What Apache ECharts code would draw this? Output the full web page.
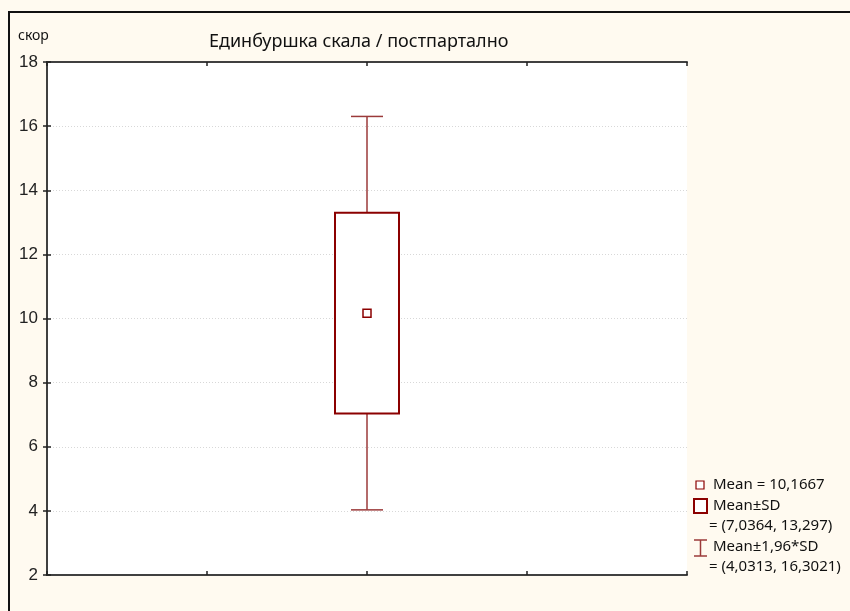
<!DOCTYPE html>
<html>
<head>
<meta charset="utf-8">
<script src="https://cdn.jsdelivr.net/npm/echarts@6/dist/echarts.min.js"></script>
<style>
  html, body { margin: 0; padding: 0; background: #fffaf0; }
  #chart { width: 850px; height: 611px; }
</style>
</head>
<body>
<div id="chart"></div>
<script>
// values
var categories = ["Единбуршка скала / постпартално"];
var means = [10.1667];
var sdLow = [7.0364];
var sdHigh = [13.297];
var ciLow = [4.0313];
var ciHigh = [16.3021];
var yTicks = [2, 4, 6, 8, 10, 12, 14, 16, 18];

var boxColor = "#8b0000";
var font = "'Noto Sans', sans-serif";

function fmt(v) {
  return String(v).replace(".", ",");
}

var chart = echarts.init(document.getElementById("chart"));

var seriesData = [];
for (var i = 0; i < categories.length; i++) {
  seriesData.push([2, means[i], sdLow[i], sdHigh[i], ciLow[i], ciHigh[i]]);
}

function renderBox(params, api) {
  var x = api.value(0);
  var mid = api.coord([x, api.value(1)]);
  var sdLo = api.coord([x, api.value(2)]);
  var sdHi = api.coord([x, api.value(3)]);
  var lo = api.coord([x, api.value(4)]);
  var hi = api.coord([x, api.value(5)]);
  var boxW = api.size([0.4, 0])[0];
  var capW = api.size([0.2, 0])[0];
  var cx = mid[0];
  var thin = { stroke: "#9b3a3a", lineWidth: 1.5 };
  return {
    type: "group",
    children: [
      { type: "line", shape: { x1: cx, y1: hi[1], x2: cx, y2: sdHi[1] }, style: thin },
      { type: "line", shape: { x1: cx, y1: sdLo[1], x2: cx, y2: lo[1] }, style: thin },
      { type: "line", shape: { x1: cx - capW / 2, y1: hi[1], x2: cx + capW / 2, y2: hi[1] }, style: thin },
      { type: "line", shape: { x1: cx - capW / 2, y1: lo[1], x2: cx + capW / 2, y2: lo[1] }, style: thin },
      {
        type: "rect",
        shape: { x: cx - boxW / 2, y: sdHi[1], width: boxW, height: sdLo[1] - sdHi[1] },
        style: { fill: "#fff", stroke: boxColor, lineWidth: 2 }
      },
      {
        type: "rect",
        shape: { x: cx - 4, y: mid[1] - 4, width: 8, height: 8 },
        style: { fill: "#fff", stroke: boxColor, lineWidth: 1.5 }
      }
    ]
  };
}

var axisLine = { show: true, lineStyle: { color: "#404040", width: 2 } };
var axisTick = { show: true, inside: true, length: 4, lineStyle: { color: "#222", width: 1.5 } };

var legendText = { fill: "#111", fontSize: 15, fontFamily: font };

var option = {
  backgroundColor: "#fffaf0",
  animation: false,
  title: {
    text: categories[0],
    left: 204,
    top: 28,
    textStyle: { fontSize: 18, fontWeight: "normal", color: "#111", fontFamily: font }
  },
  grid: { left: 47, right: 163, top: 62, bottom: 36, show: true, backgroundColor: "#fff", borderWidth: 0 },
  xAxis: [
    {
      type: "value", min: 0, max: 4, interval: 1, position: "bottom",
      axisLine: axisLine, axisTick: axisTick, axisLabel: { show: false }, splitLine: { show: false }
    },
    {
      type: "value", min: 0, max: 4, interval: 1, position: "top",
      axisLine: axisLine, axisTick: axisTick, axisLabel: { show: false }, splitLine: { show: false }
    }
  ],
  yAxis: [
    {
      type: "value", min: yTicks[0], max: yTicks[yTicks.length - 1], interval: 2, position: "left",
      name: "скор", nameLocation: "end", nameGap: 19,
      nameTextStyle: { align: "left", padding: [0, 0, 0, -29], fontSize: 14, color: "#111", fontFamily: font },
      axisLine: axisLine, axisTick: axisTick,
      axisLabel: { margin: 9, fontSize: 17, color: "#222", fontFamily: "'Liberation Sans', Arial, sans-serif" },
      splitLine: { show: true, lineStyle: { color: "#d8d8d8", type: [1, 2], width: 1 } }
    },
    {
      type: "value", min: yTicks[0], max: yTicks[yTicks.length - 1], interval: 2, position: "right",
      axisLine: axisLine, axisTick: axisTick, axisLabel: { show: false }, splitLine: { show: false }
    }
  ],
  series: [
    {
      type: "custom",
      xAxisIndex: 0,
      yAxisIndex: 0,
      renderItem: renderBox,
      data: seriesData,
      z: 5
    }
  ],
  graphic: [
    {
      type: "rect", left: 8, top: 11, shape: { width: 900, height: 700 },
      style: { fill: "transparent", stroke: "#111", lineWidth: 2 }, silent: true, z: -1
    },
    { type: "rect", shape: { x: 696, y: 481, width: 8, height: 8 }, style: { fill: "#fff", stroke: boxColor, lineWidth: 1.2 } },
    { type: "text", x: 713, y: 485, style: Object.assign({ text: "Mean = " + fmt(means[0]), verticalAlign: "middle" }, legendText) },
    { type: "rect", shape: { x: 694, y: 499, width: 13, height: 14 }, style: { fill: "#fff", stroke: boxColor, lineWidth: 2 } },
    { type: "text", x: 713, y: 506, style: Object.assign({ text: "Mean±SD", verticalAlign: "middle" }, legendText) },
    { type: "text", x: 709, y: 526, style: Object.assign({ text: "= (" + fmt(sdLow[0]) + ", " + fmt(sdHigh[0]) + ")", verticalAlign: "middle" }, legendText) },
    { type: "line", shape: { x1: 700.5, y1: 540, x2: 700.5, y2: 556 }, style: { stroke: "#9b3a3a", lineWidth: 1.5 } },
    { type: "line", shape: { x1: 694, y1: 540, x2: 707, y2: 540 }, style: { stroke: "#9b3a3a", lineWidth: 1.5 } },
    { type: "line", shape: { x1: 694, y1: 556, x2: 707, y2: 556 }, style: { stroke: "#9b3a3a", lineWidth: 1.5 } },
    { type: "text", x: 713, y: 547, style: Object.assign({ text: "Mean±1,96*SD", verticalAlign: "middle" }, legendText) },
    { type: "text", x: 709, y: 567, style: Object.assign({ text: "= (" + fmt(ciLow[0]) + ", " + fmt(ciHigh[0]) + ")", verticalAlign: "middle" }, legendText) }
  ]
};

chart.setOption(option);
</script>
</body>
</html>
